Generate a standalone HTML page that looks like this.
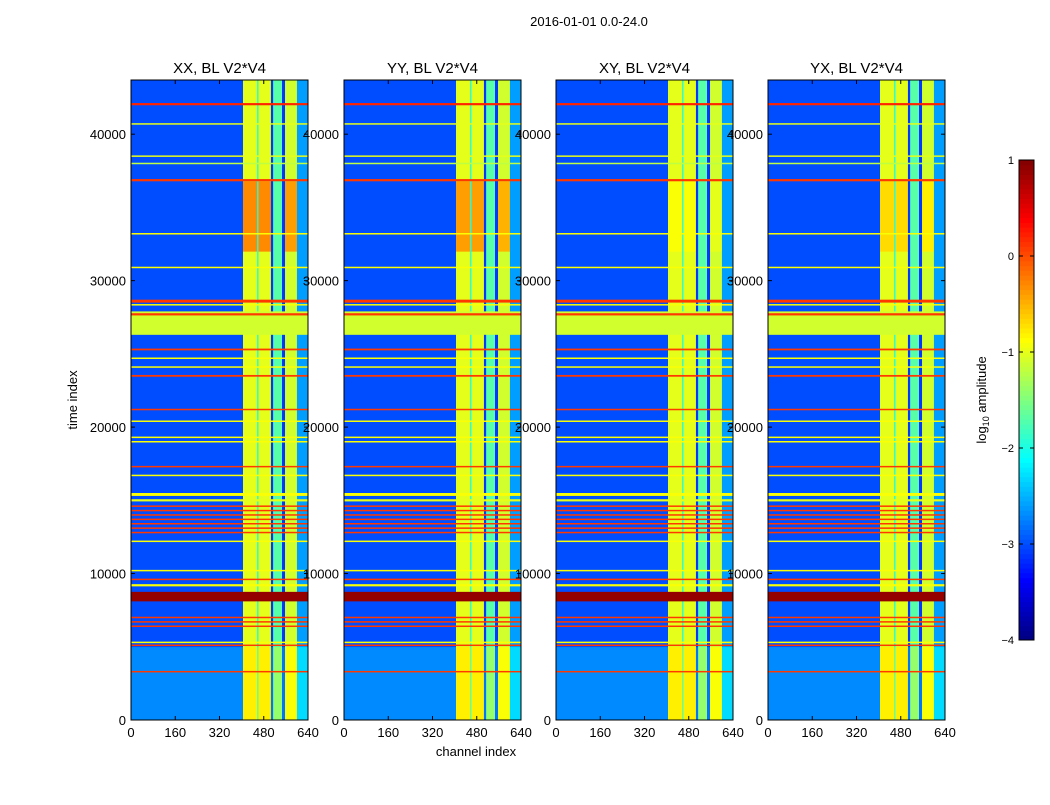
<!DOCTYPE html>
<html><head><meta charset="utf-8"><style>
body{margin:0;background:#fff;}
svg text{font-family:"Liberation Sans",sans-serif;fill:#000;}
</style></head><body>
<svg id="fig" width="1050" height="800" xmlns="http://www.w3.org/2000/svg">
<rect width="1050" height="800" fill="#fff"/>
<text x="589" y="26" font-size="13" text-anchor="middle">2016-01-01 0.0-24.0</text>
<text x="476" y="756" font-size="13" text-anchor="middle">channel index</text>
<text transform="translate(77,400) rotate(-90)" font-size="13" text-anchor="middle">time index</text>
<g id="panels"></g>
<g id="cbar"></g>
</svg>
<script>
const panelTitles = ["XX, BL V2*V4","YY, BL V2*V4","XY, BL V2*V4","YX, BL V2*V4"];
const chanEdges = [0,405,456,461,506,514,546,557,600,640];
const chanVals = [-3.0,-1.0,-2.0,-1.0,-3.1,-1.7,-3.1,-1.1,-2.6];
const panelBoost = [0.7,0.6,0.1,0.3];
const segStarts = [0,5000,32000,36800];
const segEnds = [5000,32000,36800,43700];
const segBgShift = [0.3,0,0,0];
const segBandBoost = [0.2,0,1,0];
const lineTimes = [42050,40700,38500,38000,36860,33200,30900,28600,28350,27700,25300,24700,24100,23500,21200,20400,19300,19000,17300,16700,15400,15000,14600,14300,14000,13700,13400,13100,12800,12200,10200,9600,9200,7000,6700,6400,5300,5100,3300];
const lineWidths = [150,80,100,60,150,80,80,200,60,150,120,60,60,120,100,60,100,60,100,60,200,150,80,80,80,80,80,80,80,60,80,60,150,60,60,60,60,80,80];
const lineVals = [0.2,-1,-1,-1.2,0.1,-0.9,-0.9,0.1,-0.9,0.1,0.1,-0.9,-0.9,0.1,0.1,-0.9,-0.9,-0.9,0.1,-0.9,-0.9,-1,0.1,0.1,0.1,0.1,0.1,0.1,0.1,-0.9,-0.9,0.1,-0.9,0.1,0.1,0.1,-0.9,0.1,0.1];
const blockStarts = [26300,8100];
const blockEnds = [27900,8750];
const blockVals = [-1.1,0.9];
const xTicks = [0,160,320,480,640];
const yTicks = [0,10000,20000,30000,40000];
const cbTicks = [1,0,-1,-2,-3,-4];

const panelLeft = [131,344,556,768], panelW = 177, topY = 80, bottomY = 720;
const tMax = 43700, cMax = 640, vMin = -4, vMax = 1;
const NS = "http://www.w3.org/2000/svg";
function el(tag, attrs, parent){const e=document.createElementNS(NS,tag);for(const k in attrs)e.setAttribute(k,attrs[k]);parent.appendChild(e);return e;}
function jet(v){let t=(v-vMin)/(vMax-vMin);t=Math.max(0,Math.min(1,t));
 const c=x=>Math.round(255*Math.max(0,Math.min(1,x)));
 return `rgb(${c(1.5-Math.abs(4*t-3))},${c(1.5-Math.abs(4*t-2))},${c(1.5-Math.abs(4*t-1))})`;}
const yOf = t => bottomY - (t/tMax)*(bottomY-topY);
const panelsG = document.getElementById('panels');
panelLeft.forEach((L,p)=>{
 const xOf = c => L + (c/cMax)*panelW;
 const g = el('g',{},panelsG);
 
 
 for(let i=0;i<chanVals.length;i++){
  for(let s=0;s<segStarts.length;s++){
   const isBand = chanVals[i] > -1.5;
   const v = isBand ? chanVals[i] + segBandBoost[s]*(s===2?panelBoost[p]:1) : chanVals[i] + segBgShift[s];
   const r=el('rect',{x:xOf(chanEdges[i]),y:yOf(segEnds[s]),width:xOf(chanEdges[i+1])-xOf(chanEdges[i])+0.3,height:yOf(segStarts[s])-yOf(segEnds[s])+0.3,fill:jet(v)},g);
   
   
  }
 }
 for(let i=0;i<blockStarts.length;i++){
  const r=el('rect',{x:L,y:yOf(blockEnds[i]),width:panelW,height:yOf(blockStarts[i])-yOf(blockEnds[i]),fill:jet(blockVals[i])},g);
  
  
 }
 for(let i=0;i<lineTimes.length;i++){
  const h=Math.max(1.5,(lineWidths[i]/tMax)*(bottomY-topY));
  const r=el('rect',{x:L,y:yOf(lineTimes[i])-h/2,width:panelW,height:h,fill:jet(lineVals[i])},g);
  
  
 }
 const f=el('rect',{x:L,y:topY,width:panelW,height:bottomY-topY,fill:'none',stroke:'#000','stroke-width':1},g);
 
 
 const tt=el('text',{x:L+panelW/2,y:73,'font-size':15,'text-anchor':'middle'},g);
 tt.textContent=panelTitles[p];
 
 
 xTicks.forEach(c=>{
  const x=xOf(c);
  el('line',{x1:x,x2:x,y1:bottomY,y2:bottomY-4,stroke:'#000'},g);
  el('line',{x1:x,x2:x,y1:topY,y2:topY+4,stroke:'#000'},g);
  const t=el('text',{x:x,y:737,'font-size':13,'text-anchor':'middle'},g);
  t.textContent=c;
  
  
 });
 yTicks.forEach(v=>{
  const y=yOf(v);
  el('line',{x1:L,x2:L+4,y1:y,y2:y,stroke:'#000'},g);
  el('line',{x1:L+panelW,x2:L+panelW-4,y1:y,y2:y,stroke:'#000'},g);
  const t=el('text',{x:L-5,y:y+5,'font-size':13,'text-anchor':'end'},g);
  t.textContent=v;
  
  
 });
});
const cb=document.getElementById('cbar');
const cbL=1019,cbW=15,cbT=160,cbB=640;
const cbY=v=>cbB-(v-vMin)/(vMax-vMin)*(cbB-cbT);
for(let i=0;i<100;i++){
 const v0=vMin+i*(vMax-vMin)/100, v1=vMin+(i+1)*(vMax-vMin)/100;
 el('rect',{x:cbL,y:cbY(v1),width:cbW,height:cbY(v0)-cbY(v1)+0.5,fill:jet((v0+v1)/2)},cb);
}
const cbf=el('rect',{x:cbL,y:cbT,width:cbW,height:cbB-cbT,fill:'none',stroke:'#000'},cb);


cbTicks.forEach(v=>{
 const y=cbY(v);
 el('line',{x1:cbL,x2:cbL+4,y1:y,y2:y,stroke:'#000'},cb);
 el('line',{x1:cbL+cbW,x2:cbL+cbW-4,y1:y,y2:y,stroke:'#000'},cb);
 const t=el('text',{x:cbL-5,y:y+4,'font-size':11,'text-anchor':'end'},cb);
 t.textContent=v<0?'\u2212'+(-v):v;
 
 
});
const cl=el('text',{transform:'translate(986,400) rotate(-90)','font-size':13,'text-anchor':'middle'},cb);
cl.innerHTML='log<tspan font-size="9" dy="3">10</tspan><tspan dy="-3"> amplitude</tspan>';


</script>
</body></html>
